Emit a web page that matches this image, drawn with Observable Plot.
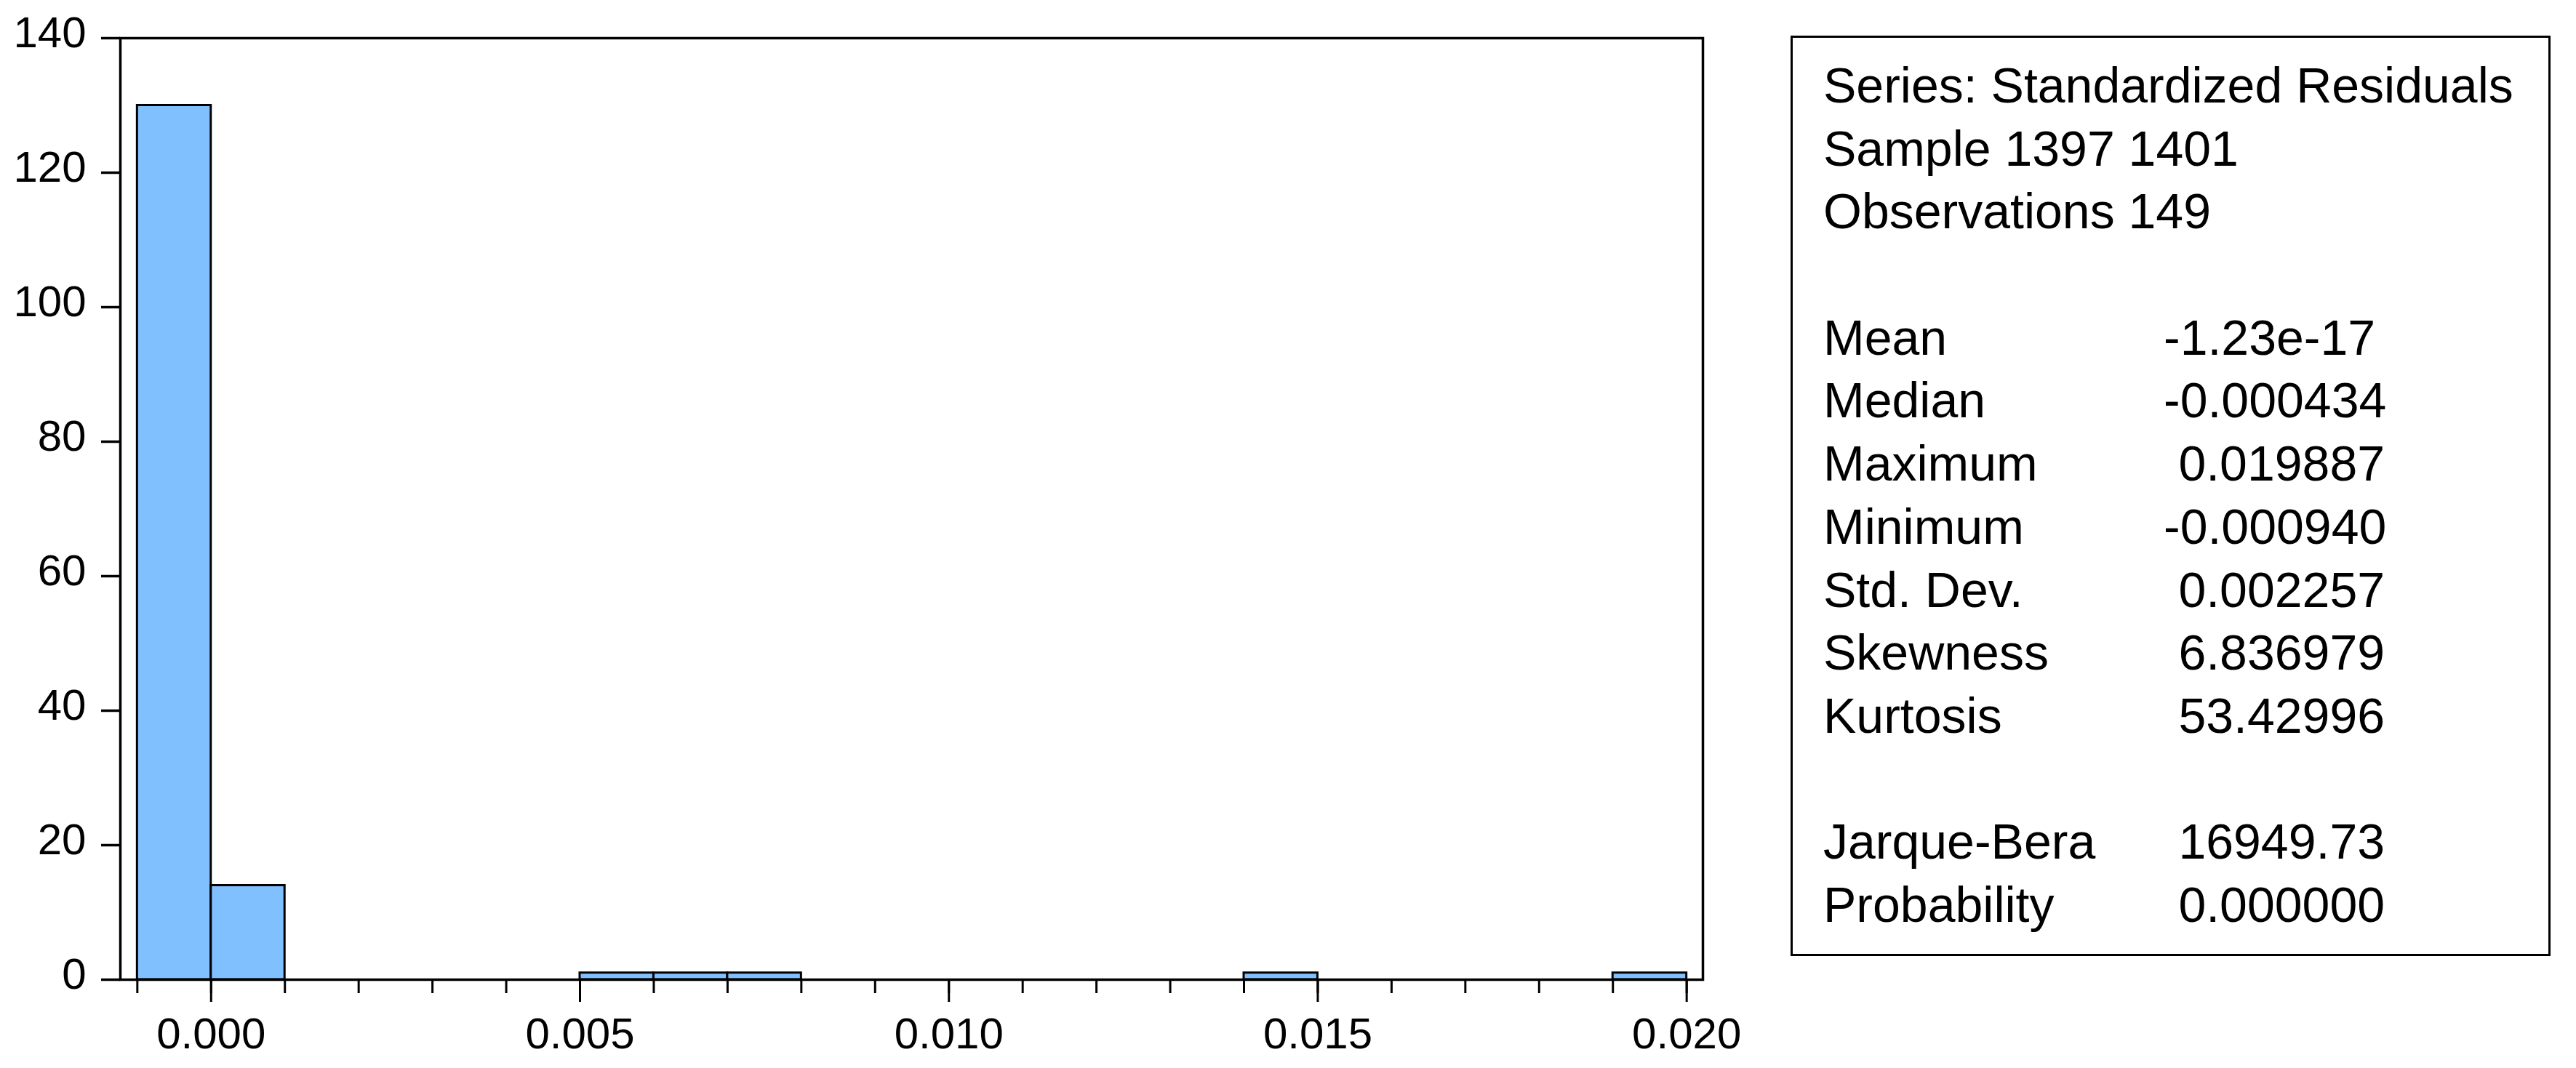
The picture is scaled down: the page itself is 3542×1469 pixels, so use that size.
<!DOCTYPE html>
<html>
<head>
<meta charset="utf-8">
<script src="https://cdn.jsdelivr.net/npm/d3@7"></script>
<script src="https://cdn.jsdelivr.net/npm/@observablehq/plot@0.6"></script>
<style>
  body { margin: 0; background: white; }
  #wrap { position: relative; width: 3542px; height: 1469px; background: white; }
  #chart { position: absolute; left: 0; top: 0; }
  #chart svg text { font-size: 60px; font-family: "Liberation Sans", Arial, sans-serif; }
  #stats {
    position: absolute; left: 2462px; top: 49px; width: 1045px; height: 1266px;
    border: 3px solid black; box-sizing: border-box;
    padding: 22px 0 0 42px;
    font-family: "Liberation Sans", Arial, sans-serif; font-size: 68px; line-height: 86.7px;
    color: black;
  }
  .row { display: flex; white-space: nowrap; height: 86.7px; }
  .lbl { width: 468px; }
</style>
</head>
<body>
<div id="wrap">
  <div id="chart"></div>
  <div id="stats"></div>
</div>
<script>
// Histogram data (bin edges and counts)
const binStart = [-0.001, 0.000, 0.005, 0.006, 0.007, 0.014, 0.019];
const binEnd   = [ 0.000, 0.001, 0.006, 0.007, 0.008, 0.015, 0.020];
const counts   = [130, 14, 1, 1, 1, 1, 1];

// Axis ticks
const yTicks = [0, 20, 40, 60, 80, 100, 120, 140];
const xMajorTicks = [0.000, 0.005, 0.010, 0.015, 0.020];
const xMinorTicks = [-0.001, 0.000, 0.001, 0.002, 0.003, 0.004, 0.005, 0.006, 0.007, 0.008, 0.009, 0.010,
                     0.011, 0.012, 0.013, 0.014, 0.015, 0.016, 0.017, 0.018, 0.019, 0.020];

// Statistics panel
const headerLines = ["Series: Standardized Residuals", "Sample 1397 1401", "Observations 149"];
const statNames  = ["Mean", "Median", "Maximum", "Minimum", "Std. Dev.", "Skewness", "Kurtosis"];
const statValues = ["-1.23e-17", "-0.000434", "0.019887", "-0.000940", "0.002257", "6.836979", "53.42996"];
const testNames  = ["Jarque-Bera", "Probability"];
const testValues = ["16949.73", "0.000000"];

const bins = binStart.map((s, i) => ({x1: s, x2: binEnd[i], count: counts[i]}));

const chart = Plot.plot({
  width: 2400,
  height: 1469,
  marginLeft: 165,
  marginTop: 52,
  marginRight: 59,
  marginBottom: 122,
  style: {fontFamily: "'Liberation Sans', Arial, sans-serif", fontSize: "60px", color: "black", background: "white"},
  x: {domain: [-0.00123, 0.02022]},
  y: {domain: [0, 140]},
  marks: [
    Plot.rectY(bins, {x1: "x1", x2: "x2", y: "count", fill: "#80C0FF", stroke: "black", strokeWidth: 3}),
    Plot.frame({stroke: "black", strokeWidth: 3.5}),
    Plot.axisY({ticks: yTicks, tickSize: 26, tickFormat: () => "", strokeWidth: 3.5, label: null}),
    Plot.axisY({ticks: yTicks, tickSize: 0, tickPadding: 47, fontSize: 60, dy: -7, label: null}),
    Plot.axisX({ticks: xMinorTicks, tickSize: 19, tickFormat: () => "", strokeWidth: 3, label: null}),
    Plot.axisX({ticks: xMajorTicks, tickSize: 31, tickPadding: 21, tickFormat: d3.format(".3f"),
                strokeWidth: 3, fontSize: 60, label: null})
  ]
});
document.getElementById("chart").appendChild(chart);

// Build stats panel
const stats = d3.select("#stats");
headerLines.forEach(t => stats.append("div").attr("class", "row").text(t));
stats.append("div").attr("class", "row");
function addRows(names, values) {
  names.forEach((n, i) => {
    const r = stats.append("div").attr("class", "row");
    r.append("span").attr("class", "lbl").text(n);
    r.append("span").style("padding-left", values[i].startsWith("-") ? "0" : "0.3em").text(values[i]);
  });
}
addRows(statNames, statValues);
stats.append("div").attr("class", "row");
addRows(testNames, testValues);
</script>
</body>
</html>
